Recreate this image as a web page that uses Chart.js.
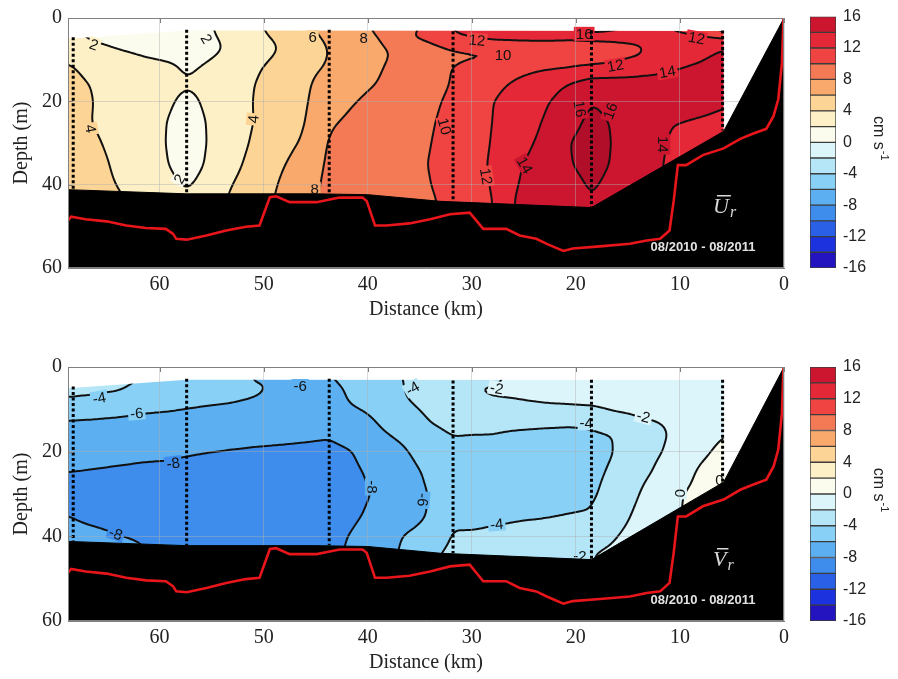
<!DOCTYPE html>
<html>
<head>
<meta charset="utf-8">
<script src="https://cdn.jsdelivr.net/npm/chart.js@4.4.1/dist/chart.umd.min.js"></script>
<style>
  body { margin: 0; background: #fff; }
  #wrap { position: relative; width: 898px; height: 679px; }
  canvas { position: absolute; }
</style>
</head>
<body>
<div id="wrap">
  <canvas id="uChart" width="898" height="340" style="left:0;top:0;width:898px;height:340px"></canvas>
  <canvas id="uBar" width="128" height="340" style="left:770px;top:0;width:128px;height:340px"></canvas>
  <canvas id="vChart" width="898" height="339" style="left:0;top:340px;width:898px;height:339px"></canvas>
  <canvas id="vBar" width="128" height="339" style="left:770px;top:340px;width:128px;height:339px"></canvas>
</div>
<script>
// section grid: distance from the mouth (km) and depth (m)
const gridDist = [0, 5.8, 8, 11, 14, 16.5, 18.5, 20.5, 23, 25.5, 28, 30, 31.8, 34, 36.5,
                  39, 41.5, 43.7, 46, 48.5, 51, 53.5, 55.7, 57.4, 59.2, 61.5, 64, 66.5, 69];
const gridDepth = [3, 5, 7, 9, 12, 16, 20, 25, 30, 35, 40, 44, 47];

// mean along-channel velocity U_r (cm/s), one column per gridDist entry
const uCols = [
  [9.0, 12.5, 13.9, 14.3, 14.5, 14.3, 14.1, 13.8, 13.5, 13.4, 13.4, 13.4, 13.4],
  [9.0, 12.5, 13.9, 14.3, 14.5, 14.3, 14.1, 13.8, 13.5, 13.4, 13.4, 13.4, 13.4],
  [11.2, 12.6, 13.3, 13.8, 14.2, 14.4, 14.3, 13.9, 13.6, 13.5, 13.5, 13.5, 13.5],
  [12.0, 12.6, 13.0, 13.4, 13.9, 14.4, 14.5, 14.05, 13.9, 13.8, 13.8, 13.8, 13.8],
  [13.5, 12.4, 11.8, 11.8, 13.5, 14.5, 14.8, 14.9, 14.9, 14.8, 14.6, 14.4, 14.4],
  [14.5, 12.1, 11.5, 11.3, 12.6, 15.0, 15.5, 15.9, 15.95, 15.9, 15.6, 15.3, 15.3],
  [15.0, 11.95, 11.3, 11.0, 12.4, 15.0, 15.95, 16.5, 16.8, 16.6, 16.2, 15.9, 15.9],
  [14.0, 11.95, 11.2, 10.8, 12.1, 14.2, 14.8, 15.4, 16.05, 15.95, 15.5, 15.2, 15.2],
  [13.5, 12.3, 11.1, 9.9, 11.9, 13.2, 13.8, 14.1, 14.3, 14.5, 14.6, 14.6, 14.6],
  [13.2, 12.3, 11.0, 9.8, 11.4, 12.4, 12.9, 13.3, 13.6, 13.9, 14.1, 14.4, 14.4],
  [13.0, 12.2, 10.8, 9.7, 10.8, 11.5, 11.95, 11.97, 12.03, 12.1, 12.05, 11.9, 11.9],
  [12.6, 11.9, 10.6, 9.7, 10.6, 11.0, 11.3, 11.5, 11.6, 11.7, 11.6, 11.5, 11.5],
  [12.1, 11.5, 10.3, 9.6, 10.05, 10.1, 10.3, 10.5, 10.7, 10.8, 10.7, 10.5, 10.5],
  [10.3, 10.5, 9.5, 9.2, 9.3, 9.5, 9.7, 9.85, 9.95, 10.05, 9.95, 9.8, 9.8],
  [9.6, 9.9, 8.6, 8.4, 8.6, 8.8, 9.0, 9.2, 9.4, 9.5, 9.5, 9.6, 9.6],
  [8.3, 7.9, 7.7, 7.7, 7.85, 8.05, 8.4, 8.8, 9.0, 9.2, 9.3, 9.4, 9.4],
  [7.2, 7.0, 6.9, 6.9, 7.2, 7.6, 7.9, 8.3, 8.6, 8.8, 9.0, 9.1, 9.1],
  [6.6, 6.3, 6.1, 6.05, 6.2, 6.9, 7.3, 7.8, 8.2, 8.4, 8.6, 8.7, 8.7],
  [5.6, 5.3, 5.1, 5.2, 5.5, 5.7, 5.8, 5.95, 6.2, 6.6, 7.0, 7.2, 7.2],
  [4.6, 4.3, 4.05, 4.2, 4.6, 4.8, 5.0, 5.2, 5.5, 5.8, 6.1, 6.3, 6.3],
  [3.6, 3.3, 3.0, 3.3, 3.7, 3.97, 4.03, 3.98, 4.2, 4.5, 4.8, 5.0, 5.0],
  [2.3, 2.2, 2.1, 2.2, 2.5, 2.8, 2.9, 2.9, 3.0, 3.3, 3.8, 4.1, 4.1],
  [1.8, 1.7, 1.6, 1.8, 2.1, 2.4, 2.2, 1.95, 1.9, 2.02, 2.5, 2.7, 2.7],
  [1.3, 1.4, 1.5, 1.6, 1.8, 2.15, 1.5, 1.0, 0.8, 1.1, 1.8, 2.5, 2.5],
  [1.3, 1.4, 1.5, 1.7, 2.3, 2.6, 2.3, 1.95, 1.9, 2.02, 2.5, 2.7, 2.7],
  [1.2, 1.4, 1.6, 1.95, 2.5, 2.8, 3.0, 3.0, 3.0, 3.2, 3.4, 3.5, 3.5],
  [1.3, 1.6, 1.9, 2.3, 2.9, 3.1, 3.2, 3.3, 3.5, 3.7, 3.95, 4.2, 4.2],
  [1.6, 1.9, 2.3, 2.7, 3.5, 3.95, 4.05, 3.98, 4.3, 4.6, 4.6, 4.6, 4.6],
  [2.3, 2.6, 3.1, 3.7, 4.3, 4.6, 4.8, 4.9, 4.9, 4.9, 4.8, 4.7, 4.7]
];

// mean cross-channel velocity V_r (cm/s)
const vCols = [
  [-0.4, -0.5, -0.5, -0.5, -0.4, -0.05, 0.4, 0.6, 0.6, 0.6, 0.6, 0.6, 0.6],
  [-0.4, -0.5, -0.5, -0.5, -0.4, -0.05, 0.4, 0.6, 0.6, 0.6, 0.6, 0.6, 0.6],
  [-0.5, -0.6, -0.7, -0.8, -0.9, -0.7, -0.3, 0.3, 0.5, 0.5, 0.5, 0.5, 0.5],
  [-0.7, -0.8, -1.0, -1.3, -1.85, -1.98, -1.8, -1.3, -0.4, -0.3, -0.3, -0.3, -0.3],
  [-0.9, -1.0, -1.2, -1.5, -2.05, -2.6, -2.7, -2.5, -2.05, -1.6, -1.2, -1.0, -1.0],
  [-1.1, -1.2, -1.4, -1.6, -2.5, -4.05, -4.1, -3.8, -3.5, -3.0, -2.2, -1.7, -1.7],
  [-1.2, -1.3, -1.5, -1.85, -3.3, -4.3, -4.4, -4.35, -4.2, -3.9, -2.8, -2.05, -2.05],
  [-1.3, -1.4, -1.6, -1.95, -3.4, -4.5, -4.6, -4.6, -4.5, -3.95, -3.3, -2.9, -2.9],
  [-1.5, -1.6, -1.75, -2.05, -3.2, -4.5, -4.7, -4.8, -4.7, -4.1, -3.4, -3.1, -3.1],
  [-1.7, -1.8, -1.9, -2.2, -3.0, -4.4, -4.5, -4.7, -4.8, -4.2, -3.5, -3.2, -3.2],
  [-2.2, -1.9, -1.95, -2.4, -3.2, -4.05, -4.5, -4.8, -4.9, -4.4, -3.6, -3.3, -3.3],
  [-2.1, -2.05, -2.15, -2.6, -3.3, -4.02, -4.5, -4.9, -5.0, -4.7, -3.7, -3.4, -3.4],
  [-2.6, -2.7, -2.9, -3.1, -3.5, -3.95, -4.4, -4.8, -4.9, -4.5, -3.8, -3.6, -3.6],
  [-3.0, -3.1, -3.3, -3.5, -3.85, -4.4, -5.0, -5.6, -5.9, -5.85, -5.4, -4.3, -4.3],
  [-3.95, -4.01, -4.05, -4.3, -4.9, -5.6, -6.2, -6.8, -7.0, -6.8, -5.9, -5.7, -5.7],
  [-4.8, -5.0, -5.2, -5.5, -5.8, -6.3, -7.0, -7.6, -7.85, -7.6, -7.1, -6.9, -6.9],
  [-5.7, -5.8, -5.85, -5.95, -6.6, -7.5, -8.05, -8.3, -8.4, -8.25, -7.9, -7.8, -7.8],
  [-6.05, -6.3, -6.4, -6.6, -7.2, -7.9, -8.3, -8.6, -8.8, -8.7, -8.4, -8.3, -8.3],
  [-5.95, -6.3, -6.4, -6.6, -7.1, -7.8, -8.25, -8.8, -9.2, -9.3, -9.2, -9.1, -9.1],
  [-6.05, -6.2, -6.3, -6.5, -7.0, -7.7, -8.2, -8.85, -9.3, -9.4, -9.3, -9.2, -9.2],
  [-6.1, -5.8, -5.95, -6.3, -6.9, -7.6, -8.15, -8.8, -9.3, -9.4, -9.3, -9.2, -9.2],
  [-5.0, -5.3, -5.7, -6.05, -6.8, -7.5, -8.05, -8.7, -9.3, -9.3, -9.2, -9.1, -9.1],
  [-4.7, -5.1, -5.5, -5.95, -6.6, -7.4, -7.95, -8.6, -9.2, -9.2, -9.1, -9.0, -9.0],
  [-4.5, -4.9, -5.3, -5.8, -6.5, -7.3, -7.85, -8.5, -9.1, -9.1, -9.0, -8.9, -8.9],
  [-4.3, -4.7, -5.1, -5.6, -6.4, -7.2, -7.75, -8.35, -9.0, -9.0, -8.8, -8.6, -8.6],
  [-4.1, -4.4, -4.8, -5.4, -6.3, -7.1, -7.7, -8.3, -8.9, -8.9, -8.15, -7.9, -7.9],
  [-3.6, -3.85, -4.3, -5.0, -6.1, -6.9, -7.6, -8.2, -8.8, -8.6, -7.95, -7.5, -7.5],
  [-3.4, -3.7, -4.05, -4.8, -5.95, -6.8, -7.5, -8.1, -8.7, -8.4, -7.6, -7.3, -7.3],
  [-3.2, -3.5, -3.9, -4.6, -5.9, -6.6, -7.3, -8.02, -8.6, -7.98, -7.4, -7.2, -7.2]
];

// colour classes of the colorbar (plus the class above its top)
const levels = [-16, -14, -12, -10, -8, -6, -4, -2, 0, 2, 4, 6, 8, 10, 12, 14, 16];
const levelColors = ['#2414c0', '#1c32df', '#2a60e6', '#3e8cec', '#5cb0f1', '#88d0f6',
                     '#b4e6f8', '#dcf5fb', '#fcfcee', '#fdf0c6', '#fcd496', '#f9a96c',
                     '#f47a56', '#ef4442', '#e42838', '#cc162f'];
const aboveColor = '#b10f29';
const contourLevels = [-14, -12, -10, -8, -6, -4, -2, 0, 2, 4, 6, 8, 10, 12, 14, 16];
const barTicks = [-16, -12, -8, -4, 0, 4, 8, 12, 16];
const distTicks = [0, 10, 20, 30, 40, 50, 60];
const depthTicks = [0, 20, 40, 60];

// outline of the measured section and the channel
const surfDist = [68.8, 57.4, 5.8];
const surfDepth = [5.0, 3.0, 3.1];
const bottomDist = [68.8, 57.4, 45, 40, 33, 18.5, 5.8, 0];
const bottomDepth = [41.2, 42.2, 42.2, 42.4, 44.0, 45.5, 27.2, 0];
const bedDist = [68.8, 68.5, 67.1, 65.1, 63.2, 61.3, 59.4, 58.7, 58.4, 57.4, 55.5, 53.6, 51.7,
                 50.4, 49.4, 48.8, 47.5, 44.9, 43.3, 42.7, 40.5, 40.1, 39.3, 38.2, 36.0, 34.0,
                 32.1, 30.2, 28.9, 26.7, 25.4, 23.8, 22.8, 21.2, 20.3, 17.7, 14.8, 13.2, 11.9,
                 11.0, 10.6, 10.2, 9.4, 7.8, 5.8, 4.2, 3.0, 1.7, 1.0, 0.55, 0.2, 0.05];
const bedDepth = [48.6, 47.7, 48.3, 48.8, 49.8, 50.4, 50.6, 51.8, 53.0, 53.2, 52.2, 51.0, 50.1,
                  49.8, 43.0, 42.8, 44.2, 44.2, 43.4, 43.1, 43.1, 43.9, 49.8, 49.8, 49.3, 48.3,
                  47.1, 46.7, 50.6, 50.6, 52.2, 53.0, 54.2, 55.9, 55.3, 54.8, 54.2, 53.4, 53.0,
                  51.0, 43.9, 35.3, 35.3, 32.9, 31.3, 29.0, 27.8, 26.6, 23.5, 19.5, 10.9, 0.2];
const moorDist = [68.3, 57.4, 43.7, 31.8, 18.5, 5.9];
const moorTop = [4.6, 2.8, 2.8, 3.2, 3.0, 3.0];
const moorBottom = [41.2, 42.2, 42.1, 44.0, 45.5, 27.0];

// contour labels: text, distance, depth, rotation (deg)
const uTags = [
  ['2', 66.3, 6.4, 20], ['2', 55.5, 5.0, 60], ['2', 58.1, 38.6, -60],
  ['4', 66.6, 26.6, 80], ['4', 51.0, 24.3, -85], ['6', 45.3, 4.6, 0],
  ['8', 40.4, 4.8, 0], ['8', 45.1, 41.0, 0], ['10', 32.6, 26, 75],
  ['10', 27.0, 8.9, 0], ['12', 29.5, 5.3, 5], ['12', 28.6, 38, 80],
  ['12', 16.2, 11.4, -10], ['12', 8.4, 4.8, 10], ['14', 24.9, 35.3, 60],
  ['14', 11.2, 12.9, -10], ['14', 11.6, 30.3, 90], ['16', 19.6, 21.8, 80],
  ['16', 16.7, 22.3, -70], ['16', 19.2, 3.8, 0]
];
const vTags = [
  ['-4', 65.8, 7.3, -10], ['-6', 62.2, 10.9, -5], ['-6', 46.5, 4.5, 0],
  ['-8', 58.7, 22.7, -8], ['-8', 64.2, 39.3, 20], ['-8', 39.6, 28.3, 90],
  ['-6', 34.7, 31.4, 95], ['-4', 35.7, 5.0, -30], ['-2', 27.6, 5.0, 10],
  ['-2', 13.5, 11.7, 15], ['-4', 19.0, 13.3, 0], ['-4', 27.6, 37.1, -5],
  ['-2', 19.6, 44.6, 0], ['0', 10.0, 29.8, 90], ['0', 6.2, 26.7, 0]
];

const STEP = 2;
const fillColors = levelColors.concat([aboveColor]);
const binRGB = fillColors.map(c => [1, 3, 5].map(k => parseInt(c.substr(k, 2), 16)));

function binIndex(v) {
  return Math.max(0, Math.min(fillColors.length - 1, Math.floor((v - levels[0]) / 2)));
}

function sampleGrid(cols, d, z) {
  let i = 0;
  while (i < gridDist.length - 2 && d > gridDist[i + 1]) i++;
  let j = 0;
  while (j < gridDepth.length - 2 && z > gridDepth[j + 1]) j++;
  const tx = Math.max(0, Math.min(1, (d - gridDist[i]) / (gridDist[i + 1] - gridDist[i])));
  const tz = Math.max(0, Math.min(1, (z - gridDepth[j]) / (gridDepth[j + 1] - gridDepth[j])));
  const a = cols[i][j], b = cols[i + 1][j], c = cols[i][j + 1], e = cols[i + 1][j + 1];
  return (a * (1 - tx) + b * tx) * (1 - tz) + (c * (1 - tx) + e * tx) * tz;
}

function boxBlur(f, nx, ny, r) {
  const tmp = new Float32Array(f.length), out = new Float32Array(f.length);
  for (let j = 0; j < ny; j++) {
    for (let i = 0; i < nx; i++) {
      let s = 0;
      for (let k = -r; k <= r; k++) s += f[j * nx + Math.max(0, Math.min(nx - 1, i + k))];
      tmp[j * nx + i] = s / (2 * r + 1);
    }
  }
  for (let j = 0; j < ny; j++) {
    for (let i = 0; i < nx; i++) {
      let s = 0;
      for (let k = -r; k <= r; k++) s += tmp[Math.max(0, Math.min(ny - 1, j + k)) * nx + i];
      out[j * nx + i] = s / (2 * r + 1);
    }
  }
  return out;
}

// sample the grid on a fine pixel lattice through the chart scales
function buildField(chart, cols) {
  const a = chart.chartArea, xs = chart.scales.x, ys = chart.scales.y;
  const nx = Math.ceil((a.right - a.left) / STEP) + 1;
  const ny = Math.ceil((a.bottom - a.top) / STEP) + 1;
  let f = new Float32Array(nx * ny);
  for (let j = 0; j < ny; j++) {
    const z = ys.getValueForPixel(a.top + j * STEP);
    for (let i = 0; i < nx; i++) {
      f[j * nx + i] = sampleGrid(cols, xs.getValueForPixel(a.left + i * STEP), z);
    }
  }
  f = boxBlur(boxBlur(f, nx, ny, 2), nx, ny, 2);
  return { f, nx, ny };
}

function fieldValue(F, px, py) {
  const fx = Math.max(0, Math.min(F.nx - 1.001, px / STEP));
  const fy = Math.max(0, Math.min(F.ny - 1.001, py / STEP));
  const i = Math.floor(fx), j = Math.floor(fy), tx = fx - i, ty = fy - j;
  const f = F.f, n = F.nx;
  return (f[j * n + i] * (1 - tx) + f[j * n + i + 1] * tx) * (1 - ty) +
         (f[(j + 1) * n + i] * (1 - tx) + f[(j + 1) * n + i + 1] * tx) * ty;
}

function clipSection(chart) {
  const ctx = chart.ctx, xs = chart.scales.x, ys = chart.scales.y;
  ctx.beginPath();
  surfDist.forEach((d, k) => {
    const x = xs.getPixelForValue(d), y = ys.getPixelForValue(surfDepth[k]);
    if (k === 0) ctx.moveTo(x, y); else ctx.lineTo(x, y);
  });
  ctx.lineTo(xs.getPixelForValue(surfDist[surfDist.length - 1]), ys.getPixelForValue(60));
  ctx.lineTo(xs.getPixelForValue(surfDist[0]), ys.getPixelForValue(60));
  ctx.closePath();
  ctx.clip();
}

function traceContours(ctx, F, a) {
  const { f, nx, ny } = F;
  ctx.beginPath();
  for (let j = 0; j < ny - 1; j++) {
    for (let i = 0; i < nx - 1; i++) {
      const v0 = f[j * nx + i], v1 = f[j * nx + i + 1];
      const v2 = f[(j + 1) * nx + i + 1], v3 = f[(j + 1) * nx + i];
      const lo = Math.min(v0, v1, v2, v3), hi = Math.max(v0, v1, v2, v3);
      const x0 = a.left + i * STEP, y0 = a.top + j * STEP;
      for (const L of contourLevels) {
        if (L < lo || L > hi) continue;
        const pts = [];
        if ((v0 >= L) !== (v1 >= L)) pts.push([x0 + STEP * (L - v0) / (v1 - v0), y0]);
        if ((v1 >= L) !== (v2 >= L)) pts.push([x0 + STEP, y0 + STEP * (L - v1) / (v2 - v1)]);
        if ((v3 >= L) !== (v2 >= L)) pts.push([x0 + STEP * (L - v3) / (v2 - v3), y0 + STEP]);
        if ((v0 >= L) !== (v3 >= L)) pts.push([x0, y0 + STEP * (L - v0) / (v3 - v0)]);
        for (let k = 0; k + 1 < pts.length; k += 2) {
          ctx.moveTo(pts[k][0], pts[k][1]);
          ctx.lineTo(pts[k + 1][0], pts[k + 1][1]);
        }
      }
    }
  }
  ctx.lineWidth = 2;
  ctx.lineCap = 'round';
  ctx.strokeStyle = '#111';
  ctx.stroke();
}

function sectionLayer(cols, tags, symbol) {
  return {
    id: 'section',
    beforeDraw(chart) {
      const ctx = chart.ctx, a = chart.chartArea, xs = chart.scales.x, ys = chart.scales.y;
      const F = buildField(chart, cols);
      const w = Math.round(a.right - a.left), h = Math.round(a.bottom - a.top);
      const off = document.createElement('canvas');
      off.width = w; off.height = h;
      const octx = off.getContext('2d');
      const img = octx.createImageData(w, h);
      for (let py = 0; py < h; py++) {
        for (let px = 0; px < w; px++) {
          const rgb = binRGB[binIndex(fieldValue(F, px, py))];
          const o = (py * w + px) * 4;
          img.data[o] = rgb[0]; img.data[o + 1] = rgb[1]; img.data[o + 2] = rgb[2]; img.data[o + 3] = 255;
        }
      }
      octx.putImageData(img, 0, 0);

      ctx.save();
      clipSection(chart);
      ctx.drawImage(off, a.left, a.top);
      traceContours(ctx, F, a);
      ctx.restore();

      // contour labels
      ctx.save();
      ctx.font = '15px "Liberation Sans", Arial, sans-serif';
      ctx.textAlign = 'center';
      ctx.textBaseline = 'middle';
      tags.forEach(([text, d, z, ang]) => {
        const x = xs.getPixelForValue(d), y = ys.getPixelForValue(z);
        const tw = ctx.measureText(text).width;
        ctx.save();
        ctx.translate(x, y);
        ctx.rotate(ang * Math.PI / 180);
        ctx.fillStyle = fillColors[binIndex(fieldValue(F, x - a.left, y - a.top))];
        ctx.fillRect(-tw / 2 - 2, -7, tw + 4, 14);
        ctx.fillStyle = '#111';
        ctx.fillText(text, 0, 1);
        ctx.restore();
      });
      ctx.restore();
    },
    afterDraw(chart) {
      const ctx = chart.ctx, a = chart.chartArea, xs = chart.scales.x, ys = chart.scales.y;
      ctx.save();
      ctx.strokeStyle = '#808080';
      ctx.lineWidth = 1;
      ctx.strokeRect(a.left + 0.5, a.top + 0.5, a.right - a.left - 1, a.bottom - a.top - 1);
      ctx.beginPath();
      distTicks.forEach(v => {
        const x = Math.round(xs.getPixelForValue(v)) + 0.5;
        ctx.moveTo(x, a.top); ctx.lineTo(x, a.top + 5);
      });
      depthTicks.forEach(v => {
        const y = Math.round(ys.getPixelForValue(v)) + 0.5;
        ctx.moveTo(a.left, y); ctx.lineTo(a.left + 5, y);
      });
      ctx.stroke();

      // panel symbol with overbar and subscript
      const sx = a.right - 71, sy = a.bottom - 55;
      ctx.fillStyle = '#d9d9d9';
      ctx.font = 'italic 22px "Liberation Serif", "Times New Roman", serif';
      ctx.textAlign = 'left';
      ctx.fillText(symbol, sx, sy);
      const sw = ctx.measureText(symbol).width;
      ctx.fillRect(sx + 4, sy - 18, sw - 2, 1.5);
      ctx.font = 'italic 16px "Liberation Serif", "Times New Roman", serif';
      ctx.fillText('r', sx + sw + 1, sy + 4);

      ctx.font = 'bold 13px "Liberation Sans", Arial, sans-serif';
      ctx.textAlign = 'center';
      ctx.fillStyle = '#e2e2e2';
      ctx.fillText('08/2010 - 08/2011', a.right - 81, a.bottom - 17);
      ctx.restore();
    }
  };
}

function pts(xsArr, ysArr) {
  return xsArr.map((d, k) => ({ x: d, y: ysArr[k] }));
}

function makePanel(id, cols, tags, symbol, padTop, padBottom) {
  const datasets = [
    { type: 'line', data: pts(bottomDist, bottomDepth), fill: { value: 60 },
      backgroundColor: '#000', borderColor: '#000', borderWidth: 1, pointRadius: 0, order: 3 },
    { type: 'line', data: pts(bedDist, bedDepth), fill: false,
      borderColor: '#e8161b', borderWidth: 2.6, pointRadius: 0, order: 2 }
  ];
  moorDist.forEach((d, k) => {
    datasets.push({ type: 'line', data: [{ x: d, y: moorTop[k] }, { x: d, y: moorBottom[k] }],
      fill: false, borderColor: '#000', borderWidth: 3, borderDash: [3, 2.5],
      pointRadius: 0, order: 1 });
  });
  const serif = { family: '"Liberation Serif", "Times New Roman", serif', size: 20 };
  return new Chart(document.getElementById(id), {
    type: 'scatter',
    data: { datasets },
    options: {
      responsive: false,
      animation: false,
      events: [],
      layout: { padding: { left: 10, top: padTop, right: 114, bottom: padBottom } },
      plugins: { legend: { display: false }, tooltip: { enabled: false } },
      scales: {
        x: {
          type: 'linear', reverse: true, min: 0, max: 68.8,
          afterBuildTicks: s => { s.ticks = distTicks.map(v => ({ value: v })); },
          afterFit: s => { s.height = 54; },
          ticks: { padding: 5, maxRotation: 0, color: '#222', font: serif },
          grid: { color: 'rgba(175,175,175,0.45)', drawTicks: false },
          border: { color: '#808080' },
          title: { display: true, text: 'Distance (km)', color: '#222', font: serif, padding: 0 }
        },
        y: {
          type: 'linear', reverse: true, min: 0, max: 60,
          afterBuildTicks: s => { s.ticks = depthTicks.map(v => ({ value: v })); },
          afterFit: s => { s.width = 58; },
          ticks: { padding: 6, color: '#222', font: serif },
          grid: { color: 'rgba(175,175,175,0.45)', drawTicks: false },
          border: { color: '#808080' },
          title: { display: true, text: 'Depth (m)', color: '#222', font: serif, padding: 0 }
        }
      }
    },
    plugins: [sectionLayer(cols, tags, symbol)]
  });
}

const unitLabel = {
  id: 'unit',
  afterDraw(chart) {
    const ctx = chart.ctx, a = chart.chartArea;
    ctx.save();
    ctx.translate(110, (a.top + a.bottom) / 2 - 4);
    ctx.rotate(Math.PI / 2);
    ctx.fillStyle = '#222';
    ctx.font = '16px "Liberation Sans", Arial, sans-serif';
    const w1 = ctx.measureText('cm s').width;
    ctx.font = '11px "Liberation Sans", Arial, sans-serif';
    const w2 = ctx.measureText('-1').width;
    const x0 = -(w1 + w2 + 1) / 2;
    ctx.font = '16px "Liberation Sans", Arial, sans-serif';
    ctx.fillText('cm s', x0, 6);
    ctx.font = '11px "Liberation Sans", Arial, sans-serif';
    ctx.fillText('-1', x0 + w1 + 1, -1);
    ctx.restore();
  }
};

function makeColorbar(id, padTop, padBottom) {
  return new Chart(document.getElementById(id), {
    type: 'bar',
    data: {
      labels: [''],
      datasets: levelColors.map((c, i) => ({
        data: [[levels[i], levels[i + 1]]], backgroundColor: c, borderColor: '#3c3c3c',
        borderWidth: 1, borderSkipped: false, grouped: false,
        barPercentage: 1, categoryPercentage: 1
      }))
    },
    options: {
      responsive: false,
      animation: false,
      events: [],
      layout: { padding: { left: 40, top: padTop, right: 0, bottom: padBottom } },
      plugins: { legend: { display: false }, tooltip: { enabled: false } },
      scales: {
        x: { display: false },
        y: {
          position: 'right', min: -16, max: 16,
          afterBuildTicks: s => { s.ticks = barTicks.map(v => ({ value: v })); },
          afterFit: s => { s.width = 62; },
          ticks: { padding: 7, color: '#222', font: { family: '"Liberation Sans", Arial, sans-serif', size: 16 } },
          grid: { display: false, drawTicks: false },
          border: { display: false }
        }
      }
    },
    plugins: [unitLabel]
  });
}

makePanel('uChart', uCols, uTags, 'U', 14, 18);
makePanel('vChart', vCols, vTags, 'V', 27, 4);
makeColorbar('uBar', 14, 72);
makeColorbar('vBar', 27, 58);
</script>
</body>
</html>
